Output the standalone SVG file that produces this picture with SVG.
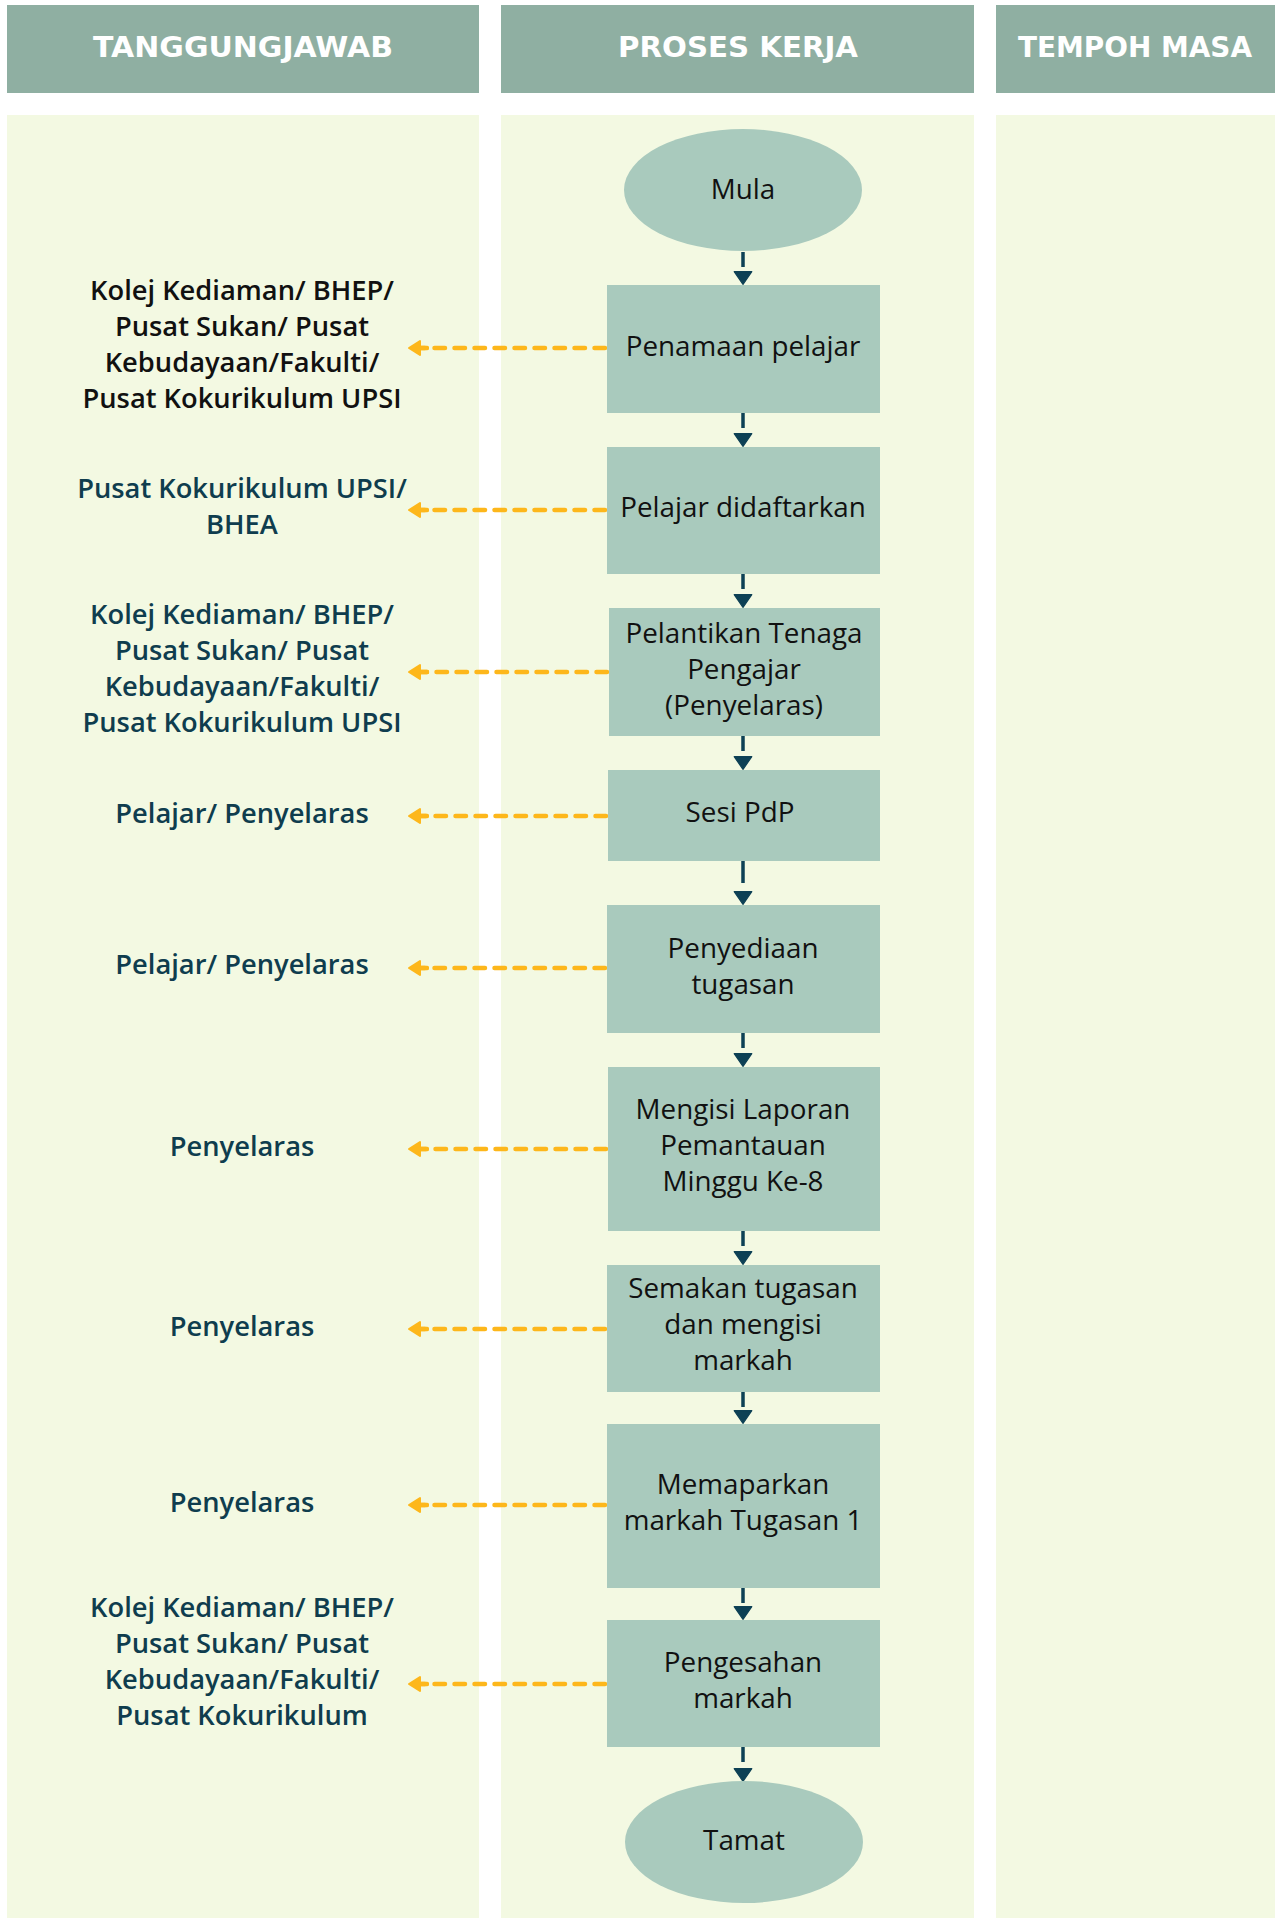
<svg xmlns="http://www.w3.org/2000/svg" width="1275" height="1918" viewBox="0 0 1275 1918">
  <style>
    .hdr { fill: #8FAFA2; }
    .hdrtxt { font-family: "DejaVu Sans", "Liberation Sans", sans-serif; font-weight: bold; font-size: 28px; fill: #FFFFFF; text-anchor: middle; }
    .panel { fill: #F3F9E2; }
    .box { fill: #A9CABD; }
    .btxt { font-family: "Open Sans", "Noto Sans", sans-serif; font-size: 27.8px; fill: #111111; text-anchor: middle; }
    .ltxt { font-family: "Open Sans", "Noto Sans", sans-serif; font-weight: 600; font-size: 27.3px; fill: #0F3D4E; text-anchor: middle; }
    .ltxt.black { fill: #111111; }
    .flow { fill: none; stroke: #0D4155; stroke-width: 3.5; stroke-dasharray: 15 60; marker-end: url(#headDown); }
    .resp { fill: none; stroke: #FDB71B; stroke-width: 4.5; stroke-linecap: round; stroke-dasharray: 10.5 9.5; marker-end: url(#headLeft); }
  </style>
  <defs>
    <marker id="headDown" markerUnits="userSpaceOnUse" viewBox="0 -10 14 20" refX="14" refY="0" markerWidth="14" markerHeight="20" orient="auto">
      <path d="M0.7,-8.8 L13.3,0 L0.7,8.8 Z" fill="#0D4155" stroke="#0D4155" stroke-width="1.2" stroke-linejoin="round"/>
    </marker>
    <marker id="headLeft" markerUnits="userSpaceOnUse" viewBox="-8 -9 23 18" refX="0" refY="0" markerWidth="23" markerHeight="18" orient="auto">
      <path d="M-6,0 H2" stroke="#FDB71B" stroke-width="4.5" stroke-linecap="round"/>
      <path d="M1,-7 L12,0 L1,7 Z" fill="#FDB71B" stroke="#FDB71B" stroke-width="2" stroke-linejoin="round"/>
    </marker>
  </defs>

  <rect width="1275" height="1918" fill="#FFFFFF"/>

  <g id="headers">
    <rect class="hdr" x="7" y="5" width="472" height="88"/>
    <rect class="hdr" x="501" y="5" width="473" height="88"/>
    <rect class="hdr" x="996" y="5" width="279" height="88"/>
    <text class="hdrtxt" x="243" y="57" textLength="300" lengthAdjust="spacingAndGlyphs">TANGGUNGJAWAB</text>
    <text class="hdrtxt" x="738" y="57" textLength="240" lengthAdjust="spacingAndGlyphs">PROSES KERJA</text>
    <text class="hdrtxt" x="1135" y="57" textLength="234" lengthAdjust="spacingAndGlyphs">TEMPOH MASA</text>
  </g>

  <g id="panels">
    <rect class="panel" x="7" y="115" width="472" height="1803"/>
    <rect class="panel" x="501" y="115" width="473" height="1803"/>
    <rect class="panel" x="996" y="115" width="279" height="1803"/>
  </g>

  <g id="connectors">
    <path class="flow" d="M743,252 V285"/>
    <path class="flow" d="M743,413 V447"/>
    <path class="flow" d="M743,574 V608"/>
    <path class="flow" d="M743,736 V770"/>
    <path class="flow" d="M743,861 V905" style="stroke-dasharray: 22 60"/>
    <path class="flow" d="M743,1033 V1067"/>
    <path class="flow" d="M743,1231 V1265"/>
    <path class="flow" d="M743,1392 V1424"/>
    <path class="flow" d="M743,1588 V1620"/>
    <path class="flow" d="M743,1747 V1782"/>

    <path class="resp" d="M605,348 H421"/>
    <path class="resp" d="M605,510 H421"/>
    <path class="resp" d="M607,672 H421"/>
    <path class="resp" d="M606,816 H421"/>
    <path class="resp" d="M605,968 H421"/>
    <path class="resp" d="M606,1149 H421"/>
    <path class="resp" d="M605,1329 H421"/>
    <path class="resp" d="M605,1505 H421"/>
    <path class="resp" d="M605,1684 H421"/>
  </g>

  <g id="mula">
    <ellipse class="box" cx="743" cy="190" rx="119" ry="61"/>
    <text class="btxt" x="743" y="199">Mula</text>
  </g>
  <g id="penamaan">
    <rect class="box" x="607" y="285" width="273" height="128"/>
    <text class="btxt" x="743" y="356">Penamaan pelajar</text>
  </g>
  <g id="didaftarkan">
    <rect class="box" x="607" y="447" width="273" height="127"/>
    <text class="btxt" x="743" y="517">Pelajar didaftarkan</text>
  </g>
  <g id="pelantikan">
    <rect class="box" x="609" y="608" width="271" height="128"/>
    <text class="btxt" x="744" y="643">Pelantikan Tenaga</text>
    <text class="btxt" x="744" y="679">Pengajar</text>
    <text class="btxt" x="744" y="715">(Penyelaras)</text>
  </g>
  <g id="sesi">
    <rect class="box" x="608" y="770" width="272" height="91"/>
    <text class="btxt" x="740" y="822">Sesi PdP</text>
  </g>
  <g id="penyediaan">
    <rect class="box" x="607" y="905" width="273" height="128"/>
    <text class="btxt" x="743" y="958">Penyediaan</text>
    <text class="btxt" x="743" y="994">tugasan</text>
  </g>
  <g id="mengisi">
    <rect class="box" x="608" y="1067" width="272" height="164"/>
    <text class="btxt" x="743" y="1119">Mengisi Laporan</text>
    <text class="btxt" x="743" y="1155">Pemantauan</text>
    <text class="btxt" x="743" y="1191">Minggu Ke-8</text>
  </g>
  <g id="semakan">
    <rect class="box" x="607" y="1265" width="273" height="127"/>
    <text class="btxt" x="743" y="1298">Semakan tugasan</text>
    <text class="btxt" x="743" y="1334">dan mengisi</text>
    <text class="btxt" x="743" y="1370">markah</text>
  </g>
  <g id="memaparkan">
    <rect class="box" x="607" y="1424" width="273" height="164"/>
    <text class="btxt" x="743" y="1494">Memaparkan</text>
    <text class="btxt" x="743" y="1530">markah Tugasan 1</text>
  </g>
  <g id="pengesahan">
    <rect class="box" x="607" y="1620" width="273" height="127"/>
    <text class="btxt" x="743" y="1672">Pengesahan</text>
    <text class="btxt" x="743" y="1708">markah</text>
  </g>
  <g id="tamat">
    <ellipse class="box" cx="744" cy="1842" rx="119" ry="61"/>
    <text class="btxt" x="744" y="1850">Tamat</text>
  </g>

  <g id="label-1">
    <text class="ltxt black" x="242" y="300">Kolej Kediaman/ BHEP/</text>
    <text class="ltxt black" x="242" y="336">Pusat Sukan/ Pusat</text>
    <text class="ltxt black" x="242" y="372">Kebudayaan/Fakulti/</text>
    <text class="ltxt black" x="242" y="408">Pusat Kokurikulum UPSI</text>
  </g>
  <g id="label-2">
    <text class="ltxt" x="242" y="498">Pusat Kokurikulum UPSI/</text>
    <text class="ltxt" x="242" y="534">BHEA</text>
  </g>
  <g id="label-3">
    <text class="ltxt" x="242" y="624">Kolej Kediaman/ BHEP/</text>
    <text class="ltxt" x="242" y="660">Pusat Sukan/ Pusat</text>
    <text class="ltxt" x="242" y="696">Kebudayaan/Fakulti/</text>
    <text class="ltxt" x="242" y="732">Pusat Kokurikulum UPSI</text>
  </g>
  <g id="label-4">
    <text class="ltxt" x="242" y="823">Pelajar/ Penyelaras</text>
  </g>
  <g id="label-5">
    <text class="ltxt" x="242" y="974">Pelajar/ Penyelaras</text>
  </g>
  <g id="label-6">
    <text class="ltxt" x="242" y="1156">Penyelaras</text>
  </g>
  <g id="label-7">
    <text class="ltxt" x="242" y="1336">Penyelaras</text>
  </g>
  <g id="label-8">
    <text class="ltxt" x="242" y="1512">Penyelaras</text>
  </g>
  <g id="label-9">
    <text class="ltxt" x="242" y="1617">Kolej Kediaman/ BHEP/</text>
    <text class="ltxt" x="242" y="1653">Pusat Sukan/ Pusat</text>
    <text class="ltxt" x="242" y="1689">Kebudayaan/Fakulti/</text>
    <text class="ltxt" x="242" y="1725">Pusat Kokurikulum</text>
  </g>
</svg>
